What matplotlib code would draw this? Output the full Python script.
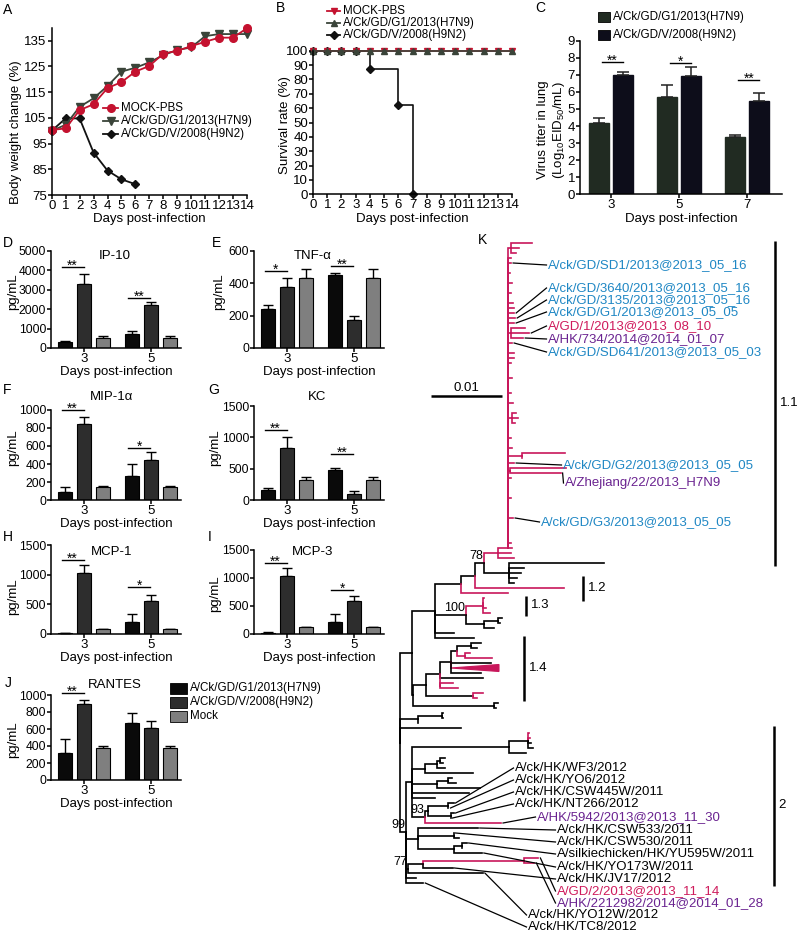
import re
import matplotlib
matplotlib.use("Agg")
import matplotlib.pyplot as plt
from matplotlib.collections import LineCollection
from matplotlib.lines import Line2D
from matplotlib.patches import Rectangle, Polygon

plt.rcParams['font.family'] = ['Liberation Sans', 'DejaVu Sans']
plt.rcParams['font.size'] = 9.5
plt.rcParams['mathtext.fontset'] = 'custom'
plt.rcParams['mathtext.rm'] = 'Liberation Sans'
plt.rcParams['mathtext.it'] = 'Liberation Sans'
plt.rcParams['axes.linewidth'] = 1.1
for a in ['xtick', 'ytick']:
    plt.rcParams[a + '.major.width'] = 1.1
    plt.rcParams[a + '.major.size'] = 2.6
    plt.rcParams[a + '.major.pad'] = 1
    plt.rcParams[a + '.labelsize'] = 9.5

# ---------------- data: A / B ----------------
DAYS = [0, 1, 2, 3, 4, 5, 6, 7, 8, 9, 10, 11, 12, 13, 14]
WEIGHT_MOCK = [100.3, 100.9, 108.0, 110.3, 116.6, 118.9, 123.0, 125.2, 130.0, 131.1, 132.9, 134.6, 136.2, 136.2, 139.9]
WEIGHT_H7N9 = [100.0, 102.3, 109.3, 112.6, 117.4, 123.0, 124.5, 126.6, 129.4, 131.4, 132.4, 136.8, 137.6, 137.6, 137.6]
WEIGHT_H9N2_DAYS = [0, 1, 2, 3, 4, 5, 6]
WEIGHT_H9N2 = [100.0, 104.8, 104.8, 91.5, 84.5, 81.1, 79.2]

SURV_MOCK = [100, 100, 100, 100, 100, 100, 100, 100, 100, 100, 100, 100, 100, 100, 100]
SURV_H7N9 = [100, 100, 100, 100, 100, 100, 100, 100, 100, 100, 100, 100, 100, 100, 100]
SURV_H9N2_DAYS = [0, 1, 2, 3, 4, 6, 7]
SURV_H9N2 = [100, 100, 100, 100, 87.5, 62.5, 0]

# ---------------- data: C ----------------
TITER_DAYS = ['3', '5', '7']
TITER_H7N9 = [4.2, 5.7, 3.35]
TITER_H7N9_ERR = [0.27, 0.72, 0.13]
TITER_H9N2 = [7.0, 6.95, 5.45]
TITER_H9N2_ERR = [0.17, 0.52, 0.5]
TITER_SIG = [(0, 7.75, '**'), (1, 7.68, '*'), (2, 6.7, '**')]

# ---------------- data: D-J (pg/mL at day 3, day 5) ----------------
CYTO_DAYS = ['3', '5']
IP10 = {'H7N9': [290, 720], 'H9N2': [3300, 2200], 'Mock': [500, 520]}
IP10_ERR = {'H7N9': [60, 140], 'H9N2': [520, 180], 'Mock': [130, 120]}
TNFA = {'H7N9': [240, 450], 'H9N2': [380, 175], 'Mock': [435, 435]}
TNFA_ERR = {'H7N9': [25, 15], 'H9N2': [50, 25], 'Mock': [55, 55]}
MIP1A = {'H7N9': [90, 265], 'H9N2': [850, 440], 'Mock': [145, 150]}
MIP1A_ERR = {'H7N9': [55, 135], 'H9N2': [75, 95], 'Mock': [10, 10]}
KC = {'H7N9': [155, 485], 'H9N2': [830, 100], 'Mock': [315, 315]}
KC_ERR = {'H7N9': [40, 30], 'H9N2': [170, 50], 'Mock': [50, 50]}
MCP1 = {'H7N9': [15, 200], 'H9N2': [1020, 560], 'Mock': [80, 80]}
MCP1_ERR = {'H7N9': [5, 130], 'H9N2': [135, 95], 'Mock': [10, 10]}
MCP3 = {'H7N9': [25, 220], 'H9N2': [1040, 590], 'Mock': [120, 120]}
MCP3_ERR = {'H7N9': [5, 130], 'H9N2': [130, 90], 'Mock': [5, 5]}
RANTES = {'H7N9': [316, 676], 'H9N2': [895, 609], 'Mock': [375, 375]}
RANTES_ERR = {'H7N9': [165, 117], 'H9N2': [46, 90], 'Mock': [20, 20]}

# ---------------- data: K (tree, Newick, lengths in BRANCH_UNIT) ----------------
BRANCH_UNIT = 0.01 / 70
C11 = ("((:21,:8,:5):3,:3,SD1:3,:0,:2,:0,:4,:0,:3,:0,:5,:6,C3640:6,C3135:7,G1:6,"
       "(:14,GD1:18,HK734:12):3,SD641:4,:0,:6,:6,:3,:0,:0,:4,:0,:0,:3,:0,:5,:0,"
       "(:4,:6,:3):4,:0,:0,:3,:0,:4,(:42,:0):14,G2:6,(:55,ZJ:50):2,"
       ":3,:0,:0,:0,:3,:0,:0,:0,G3:5,:0,:0,:0,:0,:3,:4):10L")
PK = f"({C11},:13,:16):14P"
C12 = "(:94,:15,:12,:8,:5):25"
N78 = f"({PK},{C12})b78:9"
N474 = f"({N78},:88p):14"
N460 = f"({N474},:47p):25"
C13 = "((:1,:0,:3,:7):17P,((:4,:2):14,:10):18)b100:30"
N435 = f"({N460},{C13},:18,:38):23"
T14 = "((:10,:6):14,(:5p,:27p):8p):6"
S14 = f"({T14},:40,:48PT,:30):10"
R14 = f"({S14},:42,(:12p,:17p):0p):14"
Q14 = f"({R14},(:10p,:4p):46):13"
C14 = f"({Q14},(:4,:2):80):1"
UPPER = f"({N435},{C14}):12"
OUTER = "((:1,:1):24,:0):18"
N508 = "((:1p,:2p,:3,:5):19,:17):96"
A1 = "(((:5,:3):3,:8):12,:47):13"
A3 = "((:3,:7):11,:42):25"
N93 = "(((WF3:5,YO6:0):20,(C445:3,NT266:0):22):3,H5942:75p)b93:13"
C2A = f"({N508},{A1},{A3},:56,:23,{N93}):6"
C2B = "(C533:59,(C530:0,:5):35,((SILK:5,:0):8,YO173:28):35):12"
N77 = "(((GD2:14p,HK22:10p):100p,JV17:29):15,YO12:74)b77:2"
C2 = f"({C2A},{C2B},{N77},:10,TC8:17)b99:6"
TREE = f"({UPPER},{OUTER},:60,{C2})"

BLUE, LRED, PURPLE, PINK = '#1f87c4', '#cf1b5c', '#6a2390', '#c8175b'
TIP_LABELS = [
    ("SD1", "A/ck/GD/SD1/2013@2013_05_16", BLUE, 548, 265),
    ("C3640", "A/ck/GD/3640/2013@2013_05_16", BLUE, 548, 288),
    ("C3135", "A/ck/GD/3135/2013@2013_05_16", BLUE, 548, 300),
    ("G1", "A/ck/GD/G1/2013@2013_05_05", BLUE, 548, 312),
    ("GD1", "A/GD/1/2013@2013_08_10", LRED, 548, 326),
    ("HK734", "A/HK/734/2014@2014_01_07", PURPLE, 548, 339),
    ("SD641", "A/ck/GD/SD641/2013@2013_05_03", BLUE, 548, 352),
    ("G2", "A/ck/GD/G2/2013@2013_05_05", BLUE, 563, 465),
    ("ZJ", "A/Zhejiang/22/2013_H7N9", PURPLE, 565, 483),
    ("G3", "A/ck/GD/G3/2013@2013_05_05", BLUE, 541, 522),
    ("WF3", "A/ck/HK/WF3/2012", 'black', 515, 768),
    ("YO6", "A/ck/HK/YO6/2012", 'black', 515, 780),
    ("C445", "A/ck/HK/CSW445W/2011", 'black', 515, 792),
    ("NT266", "A/ck/HK/NT266/2012", 'black', 515, 804),
    ("H5942", "A/HK/5942/2013@2013_11_30", PURPLE, 537, 817),
    ("C533", "A/ck/HK/CSW533/2011", 'black', 557, 830),
    ("C530", "A/ck/HK/CSW530/2011", 'black', 557, 842),
    ("SILK", "A/silkiechicken/HK/YU595W/2011", 'black', 557, 854),
    ("YO173", "A/ck/HK/YO173W/2011", 'black', 557, 867),
    ("JV17", "A/ck/HK/JV17/2012", 'black', 557, 879),
    ("GD2", "A/GD/2/2013@2013_11_14", LRED, 557, 891),
    ("HK22", "A/HK/2212982/2014@2014_01_28", PURPLE, 557, 903),
    ("YO12", "A/ck/HK/YO12W/2012", 'black', 528, 915),
    ("TC8", "A/ck/HK/TC8/2012", 'black', 528, 927),
]
CLADE_BARS = [("1.1", 0, 64, 371), ("1.2", 67, 71, 181), ("1.3", 71, 74, 125),
              ("1.4", 79, 91, 123), ("2", 97, 128, 370)]

# ---------------- figure ----------------
W, H = 797, 934
fig = plt.figure(figsize=(W / 100, H / 100), dpi=100)
LEG_FS = 8.4


def fx(px):
    return px / W


def fy(py):
    return 1 - py / H


def add_ax(left, top, right, bottom):
    return fig.add_axes([fx(left), fy(bottom), (right - left) / W, (bottom - top) / H])


def style(ax):
    ax.spines[['top', 'right']].set_visible(False)


def vlabel(x, y, s):
    fig.text(fx(x), fy(y), s, rotation=90, ha='center', va='center')


def letter(x, y, s):
    fig.text(fx(x), fy(y), s, ha='left', va='center', fontsize=10)


def leg_line(x0, y, label, color, marker, ms, length=15):
    fig.add_artist(Line2D([fx(x0), fx(x0 + length)], [fy(y), fy(y)], color=color, lw=1.3))
    fig.add_artist(Line2D([fx(x0 + length / 2)], [fy(y)], marker=marker, ms=ms, color=color, lw=0))
    fig.text(fx(x0 + length + 3), fy(y), label, ha='left', va='center', fontsize=LEG_FS)


def leg_patch(x0, y, label, color, w=12, h=10):
    fig.add_artist(Rectangle((fx(x0), fy(y + h / 2)), w / W, h / H, facecolor=color, edgecolor='black', lw=0.6))
    fig.text(fx(x0 + w + 3), fy(y), label, ha='left', va='center', fontsize=LEG_FS)


RED, DARK, BLK = '#c4122f', '#3a4439', '#111111'

# ---- A ----
ax = add_ax(51.7, 27.9, 247, 195)
style(ax)
ax.plot(WEIGHT_H9N2_DAYS, WEIGHT_H9N2, color=BLK, marker='D', ms=4.5, lw=1.3, clip_on=False)
ax.plot(DAYS, WEIGHT_H7N9, color=DARK, marker='v', ms=5.5, lw=1.3, clip_on=False)
ax.plot(DAYS, WEIGHT_MOCK, color=RED, marker='o', ms=5.5, lw=1.3, clip_on=False)
ax.set_xlim(0, 14)
ax.set_ylim(75, 140)
ax.set_xticks(DAYS)
ax.set_yticks([75, 85, 95, 105, 115, 125, 135])
ax.set_xlabel('Days post-infection', labelpad=1)
vlabel(16, 132, 'Body weight change (%)')
leg_line(103, 108, 'MOCK-PBS', RED, 'o', 5.5)
leg_line(103, 121, 'A/Ck/GD/G1/2013(H7N9)', DARK, 'v', 5.5)
leg_line(103, 134, 'A/Ck/GD/V/2008(H9N2)', BLK, 'D', 4.5)
letter(3, 10, 'A')

# ---- B ----
ax = add_ax(313, 50.7, 512, 194.3)
style(ax)
ax.plot(SURV_H9N2_DAYS, SURV_H9N2, color=BLK, marker='D', ms=4, lw=1.2, drawstyle='steps-post', clip_on=False)
ax.plot(DAYS, SURV_MOCK, color=RED, marker='v', ms=5, lw=1.2, clip_on=False)
ax.plot(DAYS, SURV_H7N9, color=DARK, marker='^', ms=5, lw=1.2, clip_on=False)
ax.set_xlim(0, 14)
ax.set_ylim(0, 100)
ax.set_xticks(DAYS)
ax.set_yticks(range(0, 101, 10))
ax.set_xlabel('Days post-infection', labelpad=1)
vlabel(285, 125, 'Survival rate (%)')
leg_line(327, 11, 'MOCK-PBS', RED, 'v', 5, length=13)
leg_line(327, 23, 'A/Ck/GD/G1/2013(H7N9)', DARK, '^', 5, length=13)
leg_line(327, 35, 'A/Ck/GD/V/2008(H9N2)', BLK, 'D', 4, length=13)
letter(276, 8, 'B')

# ---- C ----
C_H7, C_H9 = '#212b22', '#0d0d1a'
ax = add_ax(580, 40.7, 782, 194.3)
style(ax)
xs = list(range(len(TITER_DAYS)))
x1 = [v - 0.175 for v in xs]
x2 = [v + 0.175 for v in xs]
ax.bar(x1, TITER_H7N9, width=0.29, color=C_H7, edgecolor=C_H7, zorder=2)
ax.bar(x2, TITER_H9N2, width=0.29, color=C_H9, edgecolor=C_H9, zorder=2)
ax.errorbar(x1, TITER_H7N9, yerr=[[0] * 3, TITER_H7N9_ERR], fmt='none', ecolor='#222', elinewidth=1.1, capsize=4, capthick=1.1)
ax.errorbar(x2, TITER_H9N2, yerr=[[0] * 3, TITER_H9N2_ERR], fmt='none', ecolor='#222', elinewidth=1.1, capsize=4, capthick=1.1)
for g, y, s in TITER_SIG:
    ax.plot([g - 0.13, g + 0.18], [y, y], color='black', lw=1)
    ax.annotate(s, (g + 0.025, y), xytext=(0, -2), textcoords='offset points', ha='center', va='baseline', fontsize=10)
ax.set_xlim(-0.45, 2.51)
ax.set_ylim(0, 9)
ax.set_yticks(range(10))
ax.set_xticks(xs)
ax.set_xticklabels(TITER_DAYS)
ax.set_xlabel('Days post-infection', labelpad=1)
vlabel(543, 130, 'Virus titer in lung')
vlabel(559, 130, '(Log$_{10}$EID$_{50}$/mL)')
leg_patch(598, 17, 'A/Ck/GD/G1/2013(H7N9)', C_H7)
leg_patch(598, 35, 'A/Ck/GD/V/2008(H9N2)', C_H9)
letter(535, 8, 'C')

# ---- D-J ----
BAR_COLORS = {'H7N9': '#0a0a0a', 'H9N2': '#2d2d2d', 'Mock': '#7f7f7f'}
OFFSETS = {'H7N9': -0.285, 'H9N2': 0.0, 'Mock': 0.285}


def cyto_panel(box, vals, errs, ymax, ystep, sig, title, title_xy, ylab_xy, lab, lab_xy):
    ax = add_ax(*box)
    style(ax)
    ax.tick_params(labelsize=8.7)
    pos = list(range(len(CYTO_DAYS)))
    for key in ['H7N9', 'H9N2', 'Mock']:
        bx = [p + OFFSETS[key] for p in pos]
        ax.bar(bx, vals[key], width=0.21, color=BAR_COLORS[key], edgecolor='black', lw=0.8, zorder=2)
        ax.errorbar(bx, vals[key], yerr=[[0] * len(pos), errs[key]], fmt='none', ecolor='black',
                    elinewidth=1, capsize=3.3, capthick=1, zorder=1)
    for g, y, s in sig:
        ax.plot([g - 0.34, g - 0.01], [y, y], color='black', lw=1, clip_on=False)
        ax.annotate(s, (g - 0.175, y), xytext=(0, -2), textcoords='offset points', ha='center',
                    va='baseline', fontsize=10, annotation_clip=False)
    ax.set_xlim(-0.5, 1.45)
    ax.set_ylim(0, ymax)
    ax.set_yticks(range(0, ymax + 1, ystep))
    ax.set_xticks(pos)
    ax.set_xticklabels(CYTO_DAYS, fontsize=9.5)
    ax.set_xlabel('Days post-infection', labelpad=1)
    fig.text(fx(title_xy[0]), fy(title_xy[1]), title, ha='center', va='center', fontsize=9.5)
    vlabel(ylab_xy[0], ylab_xy[1], 'pg/mL')
    letter(lab_xy[0], lab_xy[1], lab)
    return ax


cyto_panel((51, 251, 181, 348), IP10, IP10_ERR, 5000, 1000, [(0, 4200, '**'), (1, 2600, '**')],
           'IP-10', (115, 256), (13, 292), 'D', (3, 243))
cyto_panel((254, 251, 384, 348), TNFA, TNFA_ERR, 600, 200, [(0, 478, '*'), (1, 509, '**')],
           'TNF-α', (313, 256), (219, 292), 'E', (212, 243))
cyto_panel((51, 410, 181, 500), MIP1A, MIP1A_ERR, 1000, 200, [(0, 1000, '**'), (1, 580, '*')],
           'MIP-1α', (112, 397), (13, 448), 'F', (3, 390))
cyto_panel((254, 406, 384, 500), KC, KC_ERR, 1500, 500, [(0, 1110, '**'), (1, 730, '**')],
           'KC', (317, 397), (215, 448), 'G', (208, 390))
cyto_panel((51, 545, 181, 634), MCP1, MCP1_ERR, 1500, 500, [(0, 1250, '**'), (1, 790, '*')],
           'MCP-1', (112, 552), (13, 597), 'H', (3, 537))
cyto_panel((254, 550, 384, 634), MCP3, MCP3_ERR, 1500, 500, [(0, 1260, '**'), (1, 785, '*')],
           'MCP-3', (313, 552), (215, 594), 'I', (208, 537))
cyto_panel((51, 695, 181, 780), RANTES, RANTES_ERR, 1000, 200, [(0, 1027, '**')],
           'RANTES', (115, 685), (13, 740), 'J', (5, 683))
leg_patch(170, 688, 'A/Ck/GD/G1/2013(H7N9)', BAR_COLORS['H7N9'], w=17, h=11)
leg_patch(170, 702, 'A/Ck/GD/V/2008(H9N2)', BAR_COLORS['H9N2'], w=17, h=11)
leg_patch(170, 716, 'Mock', BAR_COLORS['Mock'], w=17, h=11)

# ---- K: tree ----
NODE_RE = re.compile(r'(\w*)(?::([\d.]+))?([pPLT]*)')


def parse_newick(s):
    pos = 0

    def node():
        nonlocal pos
        kids = []
        if s[pos] == '(':
            pos += 1
            kids.append(node())
            while s[pos] == ',':
                pos += 1
                kids.append(node())
            pos += 1
        m = NODE_RE.match(s, pos)
        pos = m.end()
        return {'name': m.group(1), 'len': float(m.group(2) or 0), 'flags': m.group(3), 'kids': kids}
    return node()


tips = []


def layout(n, x0, pink_in):
    n['x'] = x0 + n['len']
    n['pink'] = pink_in or 'p' in n['flags'] or 'P' in n['flags']
    down = pink_in or 'P' in n['flags']
    if not n['kids']:
        n['y'] = len(tips)
        tips.append(n)
    else:
        for k in n['kids']:
            layout(k, n['x'], down)
        ys = [k['y'] for k in n['kids']]
        n['y'] = ys[-1] if 'L' in n['flags'] else (ys[0] + ys[-1]) / 2


root = parse_newick(TREE)
layout(root, 0.0, False)

PX_PER_UNIT = 1.01
TIP_PX, TIP0_PX = 5.0, 243


def kx(px):
    return (px - 400) / PX_PER_UNIT


def ky(py):
    return (py - TIP0_PX) / TIP_PX


axk = add_ax(396, 230, 797, 934)
axk.set_xlim(kx(396), kx(797))
axk.set_ylim(ky(934), ky(230))
axk.axis('off')

segs, cols, named, boots = [], [], {}, []


def collect(n):
    if n['name'].startswith('b') and n['kids']:
        boots.append(n)
    elif n['name']:
        named[n['name']] = n
    for k in n['kids']:
        col = PINK if k['pink'] else 'black'
        if 'T' in k['flags']:
            axk.add_patch(Polygon([(n['x'], k['y']), (k['x'], k['y'] - 0.7), (k['x'], k['y'] + 0.7)],
                                  closed=True, facecolor=col, edgecolor=col, lw=0.8))
            segs.append([(n['x'], n['y']), (n['x'], k['y'])])
        else:
            segs.append([(n['x'], n['y']), (n['x'], k['y']), (k['x'], k['y'])])
        cols.append(col)
        collect(k)


collect(root)
axk.add_collection(LineCollection(segs, colors=cols, linewidths=1.2, capstyle='projecting', joinstyle='miter'))

for n in boots:
    axk.text(n['x'] - 1, n['y'] - 0.2, n['name'][1:], ha='right', va='bottom', fontsize=9)

for key, text, col, lx, ly in TIP_LABELS:
    t = named[key]
    axk.plot([t['x'] + 2, kx(lx) - 1.5], [t['y'], ky(ly)], color='black', lw=0.9)
    axk.text(kx(lx), ky(ly), text, color=col, ha='left', va='center', fontsize=9.5)

for lab, first, last, x in CLADE_BARS:
    axk.plot([x, x], [first - 0.5, last + 0.5], color='black', lw=1.8, solid_capstyle='butt')
    axk.text(x + 5, (first + last) / 2, lab, ha='left', va='center', fontsize=9.5)

# scale bar
sb = 0.01 / BRANCH_UNIT
axk.plot([kx(431), kx(431) + sb], [ky(396), ky(396)], color='black', lw=1.8, solid_capstyle='butt')
axk.text(kx(431) + sb / 2, ky(388), '0.01', ha='center', va='center', fontsize=9.5)
letter(478, 240, 'K')

fig.savefig('out.png', dpi=100)
